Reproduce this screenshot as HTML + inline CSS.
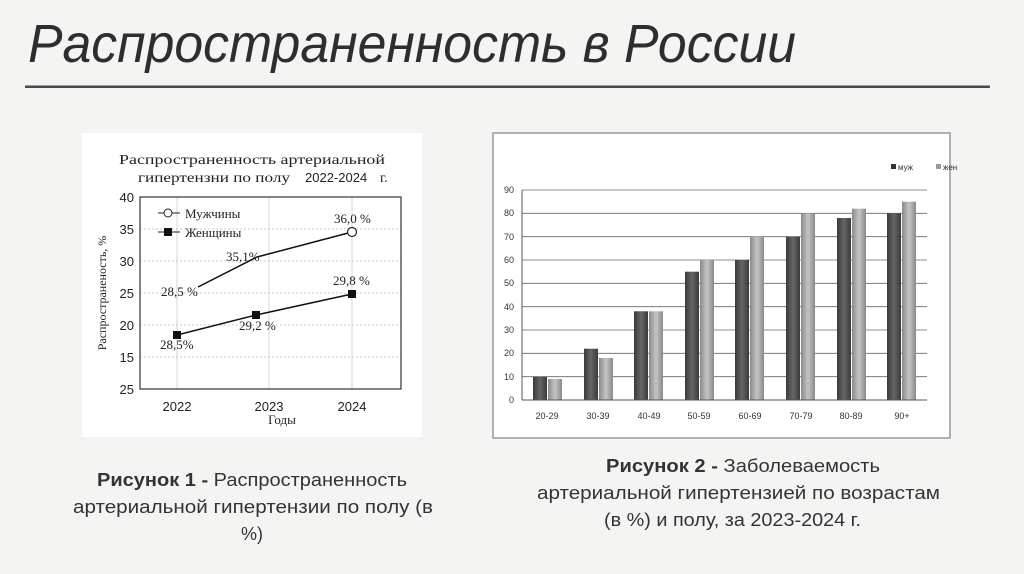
<!DOCTYPE html>
<html><head><meta charset="utf-8"><style>
html,body{margin:0;padding:0;background:#f4f4f3;}
svg{display:block;font-family:"Liberation Sans","DejaVu Sans",sans-serif;}
</style></head><body>
<svg width="1024" height="574" viewBox="0 0 1024 574" xmlns="http://www.w3.org/2000/svg">
<rect width="1024" height="574" fill="#f4f4f3"/>
<text x="28" y="62" font-size="54" font-style="italic" fill="#2e2e2e" textLength="768" lengthAdjust="spacingAndGlyphs">Распространенность в России</text>
<rect x="25" y="85.5" width="965" height="2.5" fill="#4a4a4a"/>

<!-- Left chart -->
<rect x="82" y="133" width="340" height="304" fill="#fff"/>
<g font-family="Liberation Serif,serif" fill="#222">
<text x="252" y="164" font-size="14" text-anchor="middle" textLength="266" lengthAdjust="spacingAndGlyphs">Распространенность артериальной</text>
<text x="138" y="182" font-size="14" textLength="152" lengthAdjust="spacingAndGlyphs">гипертензни по полу</text>
<text x="305" y="182" font-size="13" font-family="Liberation Sans,sans-serif">2022-2024</text>
<text x="380" y="182" font-size="14">г.</text>
<g stroke="#bbb" stroke-dasharray="2,2" stroke-width="0.8">
<line x1="140" y1="229" x2="401" y2="229"/><line x1="140" y1="261" x2="401" y2="261"/>
<line x1="140" y1="293" x2="401" y2="293"/><line x1="140" y1="325" x2="401" y2="325"/>
<line x1="140" y1="357" x2="401" y2="357"/>
</g>
<g stroke="#ccc" stroke-width="0.8"><line x1="177" y1="197" x2="177" y2="389"/><line x1="269" y1="197" x2="269" y2="389"/><line x1="352" y1="197" x2="352" y2="389"/></g>
<rect x="140" y="197" width="261" height="192" fill="none" stroke="#333" stroke-width="1.2"/>
<g font-family="Liberation Sans,sans-serif" font-size="13" text-anchor="end">
<text x="134" y="202">40</text><text x="134" y="234">35</text><text x="134" y="266">30</text><text x="134" y="298">25</text><text x="134" y="330">20</text><text x="134" y="362">15</text><text x="134" y="394">25</text>
</g>
<g font-family="Liberation Sans,sans-serif" font-size="13" text-anchor="middle">
<text x="177" y="411">2022</text><text x="269" y="411">2023</text><text x="352" y="411">2024</text>
</g>
<text x="282" y="424" font-size="13" text-anchor="middle">Годы</text>
<text transform="translate(106,293) rotate(-90)" font-size="12" text-anchor="middle">Распространеность, %</text>
<line x1="158" y1="213" x2="180" y2="213" stroke="#222"/><circle cx="168" cy="213" r="4" fill="#fff" stroke="#222"/>
<text x="185" y="218" font-size="13">Мужчины</text>
<line x1="158" y1="232" x2="180" y2="232" stroke="#222"/><rect x="164" y="228" width="8" height="8" fill="#111"/>
<text x="185" y="237" font-size="13">Женщины</text>
<polyline points="198,287 257,257 352,232" fill="none" stroke="#111" stroke-width="1.5"/>
<circle cx="352" cy="232" r="4.5" fill="#fff" stroke="#222" stroke-width="1.2"/>
<polyline points="177,335 256,315 352,294" fill="none" stroke="#111" stroke-width="1.5"/>
<rect x="173" y="331" width="8" height="8" fill="#111"/><rect x="252" y="311" width="8" height="8" fill="#111"/><rect x="348" y="290" width="8" height="8" fill="#111"/>
<g font-size="13">
<text x="161" y="296">28,5 %</text><text x="226" y="261">35,1%</text><text x="334" y="223">36,0 %</text>
<text x="333" y="285">29,8 %</text><text x="239" y="330">29,2 %</text><text x="160" y="349">28,5%</text>
</g>
</g>

<!-- Right chart -->
<rect x="493" y="133" width="457" height="305" fill="#fff" stroke="#999" stroke-width="1.5"/>
<g stroke="#666" stroke-width="0.8">
<line x1="522" y1="190" x2="927" y2="190"/><line x1="522" y1="213.3" x2="927" y2="213.3"/><line x1="522" y1="236.7" x2="927" y2="236.7"/>
<line x1="522" y1="260" x2="927" y2="260"/><line x1="522" y1="283.3" x2="927" y2="283.3"/><line x1="522" y1="306.7" x2="927" y2="306.7"/>
<line x1="522" y1="330" x2="927" y2="330"/><line x1="522" y1="353.3" x2="927" y2="353.3"/><line x1="522" y1="376.7" x2="927" y2="376.7"/>
</g>
<defs>
<linearGradient id="gd" x1="0" x2="1"><stop offset="0" stop-color="#3a3a3a"/><stop offset=".5" stop-color="#666"/><stop offset="1" stop-color="#3a3a3a"/></linearGradient>
<linearGradient id="gl" x1="0" x2="1"><stop offset="0" stop-color="#8a8a8a"/><stop offset=".5" stop-color="#c4c4c4"/><stop offset="1" stop-color="#8a8a8a"/></linearGradient>
</defs>
<g>
<rect x="533" y="376.7" width="14" height="23.3" fill="url(#gd)"/><rect x="548" y="379" width="14" height="21" fill="url(#gl)"/>
<rect x="584" y="348.7" width="14" height="51.3" fill="url(#gd)"/><rect x="599" y="358" width="14" height="42" fill="url(#gl)"/>
<rect x="634" y="311.3" width="14" height="88.7" fill="url(#gd)"/><rect x="649" y="311.3" width="14" height="88.7" fill="url(#gl)"/>
<rect x="685" y="271.7" width="14" height="128.3" fill="url(#gd)"/><rect x="700" y="260" width="14" height="140" fill="url(#gl)"/>
<rect x="735" y="260" width="14" height="140" fill="url(#gd)"/><rect x="750" y="236.7" width="14" height="163.3" fill="url(#gl)"/>
<rect x="786" y="236.7" width="14" height="163.3" fill="url(#gd)"/><rect x="801" y="213.3" width="14" height="186.7" fill="url(#gl)"/>
<rect x="837" y="218" width="14" height="182" fill="url(#gd)"/><rect x="852" y="208.7" width="14" height="191.3" fill="url(#gl)"/>
<rect x="887" y="213.3" width="14" height="186.7" fill="url(#gd)"/><rect x="902" y="201.7" width="14" height="198.3" fill="url(#gl)"/>
</g>
<line x1="522" y1="400" x2="927" y2="400" stroke="#555"/>
<line x1="522" y1="190" x2="522" y2="400" stroke="#555"/>
<g font-size="9" fill="#333" text-anchor="end">
<text x="514" y="193">90</text><text x="514" y="216">80</text><text x="514" y="240">70</text><text x="514" y="263">60</text><text x="514" y="286">50</text><text x="514" y="310">40</text><text x="514" y="333">30</text><text x="514" y="356">20</text><text x="514" y="380">10</text><text x="514" y="403">0</text>
</g>
<g font-size="9" fill="#333" text-anchor="middle">
<text x="547" y="419">20-29</text><text x="598" y="419">30-39</text><text x="649" y="419">40-49</text><text x="699" y="419">50-59</text><text x="750" y="419">60-69</text><text x="801" y="419">70-79</text><text x="851" y="419">80-89</text><text x="902" y="419">90+</text>
</g>
<rect x="891" y="164" width="5" height="5" fill="#333"/><text x="898" y="170" font-size="8" fill="#333">муж</text>
<rect x="936" y="164" width="5" height="5" fill="#999"/><text x="943" y="170" font-size="8" fill="#333">жен</text>

<!-- Captions -->
<g font-size="18" fill="#333">
<text x="97" y="486" textLength="310" lengthAdjust="spacingAndGlyphs"><tspan font-weight="bold">Рисунок 1 - </tspan>Распространенность</text>
<text x="73" y="513" textLength="360" lengthAdjust="spacingAndGlyphs">артериальной гипертензии по полу (в</text>
<text x="252" y="540" text-anchor="middle">%)</text>
<text x="606" y="472" textLength="274" lengthAdjust="spacingAndGlyphs"><tspan font-weight="bold">Рисунок 2 - </tspan>Заболеваемость</text>
<text x="537" y="499" textLength="403" lengthAdjust="spacingAndGlyphs">артериальной гипертензией по возрастам</text>
<text x="604" y="526" textLength="257" lengthAdjust="spacingAndGlyphs">(в %) и полу, за 2023-2024 г.</text>
</g>
</svg>
</body></html>
